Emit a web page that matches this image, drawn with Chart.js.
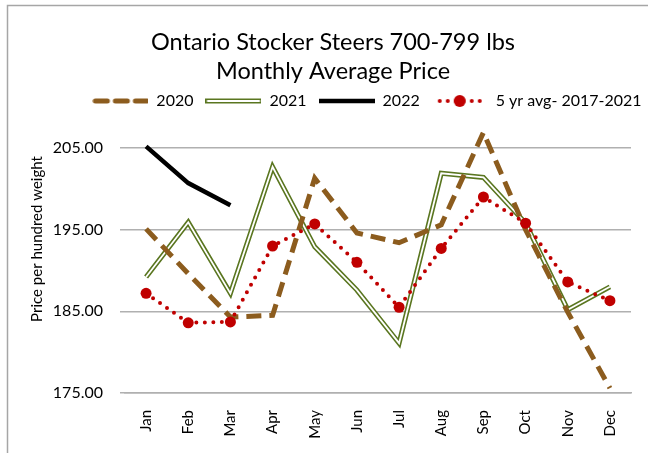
<!DOCTYPE html>
<html>
<head>
<meta charset="utf-8">
<script src="https://cdn.jsdelivr.net/npm/chart.js@4"></script>
<style>
  html, body { margin: 0; padding: 0; background: #fff; }
  #wrap { width: 648px; height: 453px; position: relative; }
</style>
</head>
<body>
<div id="wrap"><canvas id="graphique" width="648" height="453"></canvas></div>
<script>
// data
var months = ['Jan', 'Feb', 'Mar', 'Apr', 'May', 'Jun', 'Jul', 'Aug', 'Sep', 'Oct', 'Nov', 'Dec'];
var y2020 = [195.1, 189.6, 184.3, 184.5, 201.3, 194.6, 193.4, 195.6, 206.9, 195.0, 184.9, 175.6];
var y2021 = [189.2, 195.9, 187.2, 202.7, 192.9, 187.6, 181.1, 201.9, 201.4, 195.8, 185.2, 188.0];
var y2022 = [205.2, 200.7, 198.0];
var avg5 = [187.2, 183.6, 183.7, 193.0, 195.7, 191.0, 185.5, 192.7, 199.0, 195.8, 188.6, 186.3];
var yTicks = [175, 185, 195, 205];
var yTitle = 'Price per hundred weight';

var brown = '#8c5c1e';
var olive = '#5a7620';
var red = '#c00000';

// little canvases used as legend symbols
function symbole(draw) {
  var c = document.createElement('canvas');
  c.width = 56; c.height = 16;
  var g = c.getContext('2d');
  draw(g);
  return c;
}
var sym2020 = symbole(function(g) {
  g.strokeStyle = brown; g.lineWidth = 5; g.lineCap = 'round'; g.setLineDash([12, 8]);
  g.beginPath(); g.moveTo(3, 8); g.lineTo(55, 8); g.stroke();
});
var sym2021 = symbole(function(g) {
  g.strokeStyle = olive; g.lineWidth = 5;
  g.beginPath(); g.moveTo(0, 8); g.lineTo(56, 8); g.stroke();
  g.strokeStyle = '#fff'; g.lineWidth = 1.8;
  g.beginPath(); g.moveTo(1.5, 8); g.lineTo(54.5, 8); g.stroke();
});
var sym2022 = symbole(function(g) {
  g.strokeStyle = '#000'; g.lineWidth = 4.5;
  g.beginPath(); g.moveTo(0, 8); g.lineTo(56, 8); g.stroke();
});
var symAvg = symbole(function(g) {
  g.strokeStyle = red; g.lineWidth = 4; g.lineCap = 'round'; g.setLineDash([0, 8]);
  g.beginPath(); g.moveTo(8, 8); g.lineTo(52, 8); g.stroke();
  g.fillStyle = red; g.beginPath(); g.arc(28, 8, 6, 0, Math.PI * 2); g.fill();
});

var cadre = {
  id: 'cadre',
  afterLayout: function(chart) {
    // Excel centres title and legend on a wider frame than the plot
    var t = chart.titleBlock, l = chart.legend, d;
    d = 333 - (t.left + t.right) / 2; t.left += d; t.right += d;
    d = 367 - (l.left + l.right) / 2; l.left += d; l.right += d;
    d = 101 - (l.top + 12 + 8); l.top += d; l.bottom += d;
  },
  beforeDraw: function(chart) {
    var ctx = chart.ctx;
    ctx.save();
    ctx.fillStyle = '#fff';
    ctx.fillRect(0, 0, chart.width, chart.height);
    ctx.strokeStyle = '#a6a6a6';
    ctx.lineWidth = 1.5;
    ctx.strokeRect(7.5, 5.5, 700, 500);
    ctx.restore();
  },
  afterDraw: function(chart) {
    var ctx = chart.ctx;
    ctx.save();
    ctx.translate(37, 239);
    ctx.rotate(-Math.PI / 2);
    ctx.fillStyle = '#000';
    ctx.font = '15px Lato';
    ctx.textAlign = 'center';
    ctx.textBaseline = 'middle';
    ctx.fillText(yTitle, 0, 0);
    ctx.restore();
  }
};

var ctx = document.getElementById('graphique').getContext('2d');
var graphique = new Chart(ctx, {
  type: 'line',
  data: {
    labels: months,
    datasets: [
      { label: '2020', data: y2020, borderColor: brown, borderWidth: 5, borderDash: [15, 8], pointRadius: 0, order: 1, sym: sym2020 },
      { label: '2021', data: y2021, borderColor: olive, borderWidth: 5, pointRadius: 0, order: 3, sym: sym2021 },
      { label: 'inner', data: y2021, borderColor: '#fff', borderWidth: 1.8, pointRadius: 0, order: 2 },
      { label: '2022', data: y2022, borderColor: '#000', borderWidth: 4.5, pointRadius: 0, order: 4, sym: sym2022 },
      { label: '5 yr avg- 2017-2021', data: avg5, borderColor: red, borderWidth: 4, borderDash: [0, 8.5], borderCapStyle: 'round',
        pointRadius: 5.5, pointBackgroundColor: red, pointBorderWidth: 0, order: 0, sym: symAvg }
    ]
  },
  options: {
    responsive: false,
    animation: false,
    layout: { padding: { left: 0, right: 17, top: 0, bottom: 0 } },
    elements: { line: { tension: 0 } },
    plugins: {
      title: {
        display: true,
        text: ['Ontario Stocker Steers 700-799 lbs', 'Monthly Average Price'],
        color: '#000',
        font: { family: 'Lato', size: 23.5, weight: 'normal', lineHeight: 29 / 23.5 },
        padding: { top: 27.5, bottom: 0 }
      },
      legend: {
        display: true,
        labels: {
          color: '#000',
          font: { family: 'Lato', size: 16 },
          usePointStyle: true,
          pointStyleWidth: 56,
          boxHeight: 16,
          padding: 12,
          generateLabels: function(chart) {
            return chart.data.datasets.filter(function(d) { return d.sym; }).map(function(d) {
              return { text: d.label, pointStyle: d.sym, fillStyle: 'transparent', strokeStyle: 'transparent', lineWidth: 0, fontColor: '#000' };
            });
          }
        }
      },
      tooltip: { enabled: false }
    },
    scales: {
      x: {
        offset: true,
        grid: { display: false },
        border: { display: true, color: '#b0b0b0', width: 1.5 },
        ticks: { color: '#000', font: { family: 'Lato', size: 15 }, minRotation: 90, maxRotation: 90, padding: 9 },
        afterFit: function(s) { s.height = 60; }
      },
      y: {
        min: 175,
        max: 208,
        afterBuildTicks: function(s) { s.ticks = yTicks.map(function(v) { return { value: v }; }); },
        grid: { color: '#b0b0b0', lineWidth: 1.5, tickLength: 5, tickColor: '#b0b0b0' },
        border: { display: false },
        ticks: { color: '#000', font: { family: 'Lato', size: 16 }, padding: 17,
          callback: function(v) { return Number(v).toFixed(2); } },
        afterFit: function(s) { s.width = 125; }
      }
    }
  },
  plugins: [cadre]
});
</script>
</body>
</html>
